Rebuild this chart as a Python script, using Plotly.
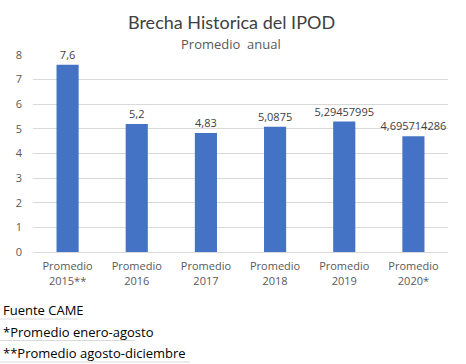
import plotly.graph_objects as go

categories = ["Promedio<br>2015**", "Promedio<br>2016", "Promedio<br>2017", "Promedio<br>2018", "Promedio<br>2019", "Promedio<br>2020*"]
values = [7.6, 5.2, 4.83, 5.0875, 5.29457995, 4.695714286]
value_labels = ["7,6", "5,2", "4,83", "5,0875", "5,29457995", "4,695714286"]
y_ticks = [0, 1, 2, 3, 4, 5, 6, 7, 8]
footer_lines = ["Fuente CAME", "*Promedio enero-agosto", "**Promedio agosto-diciembre"]

font = "Open Sans, Noto Sans, DejaVu Sans, sans-serif"
title_font = "Lato, Open Sans, sans-serif"

L, R, T, B = 33, 18, 55, 112
PW, PH = 466 - L - R, 364 - T - B


def px(x):
    return (x - L) / PW


def py(y):
    return (364 - B - y) / PH


fig = go.Figure(go.Bar(
    x=categories, y=values,
    marker=dict(color="#4472C4", line=dict(width=0)),
    width=0.32,
    text=value_labels, textposition="outside", constraintext="none",
    textfont=dict(size=11, color="#404040", family=font),
    cliponaxis=False,
))

fig.update_layout(
    width=466, height=364,
    margin=dict(l=L, r=R, t=T, b=B, autoexpand=False),
    paper_bgcolor="white", plot_bgcolor="white",
    showlegend=False,
    font=dict(family=font, color="#595959"),
    xaxis=dict(showgrid=False, showline=True, linecolor="#D9D9D9", linewidth=1,
               tickfont=dict(size=11, color="#595959"), ticks="", ticklabelstandoff=4),
    yaxis=dict(range=[0, 8], tickvals=y_ticks, showgrid=True, gridcolor="#D9D9D9",
               zeroline=False, showline=False, tickfont=dict(size=11, color="#595959"),
               ticks="", ticklabelstandoff=10),
)

fig.add_annotation(text="Brecha Historica del IPOD", xref="paper", yref="paper",
                   x=px(231), y=py(22), xanchor="center", yanchor="middle", showarrow=False,
                   font=dict(size=18, color="#404040", family=title_font))
fig.add_annotation(text="Promedio  anual", xref="paper", yref="paper",
                   x=px(231), y=py(44), xanchor="center", yanchor="middle",
                   showarrow=False, font=dict(size=13, color="#595959", family=font))

line_ends = [78, 135, 190]
for i, line in enumerate(footer_lines):
    ypix = 310 + i * 21.5
    fig.add_annotation(text=line, xref="paper", yref="paper",
                       x=px(1), y=py(ypix), xanchor="left", yanchor="middle",
                       showarrow=False, font=dict(size=13, color="#000000", family=font))
    fig.add_shape(type="line", xref="paper", yref="paper",
                  x0=px(0), x1=px(line_ends[i]), y0=py(ypix + 9), y1=py(ypix + 9),
                  line=dict(color="#D9D9D9", width=1))

fig.write_html("out.html", config={"displayModeBar": False},
               post_script="document.body.style.margin='0';")
